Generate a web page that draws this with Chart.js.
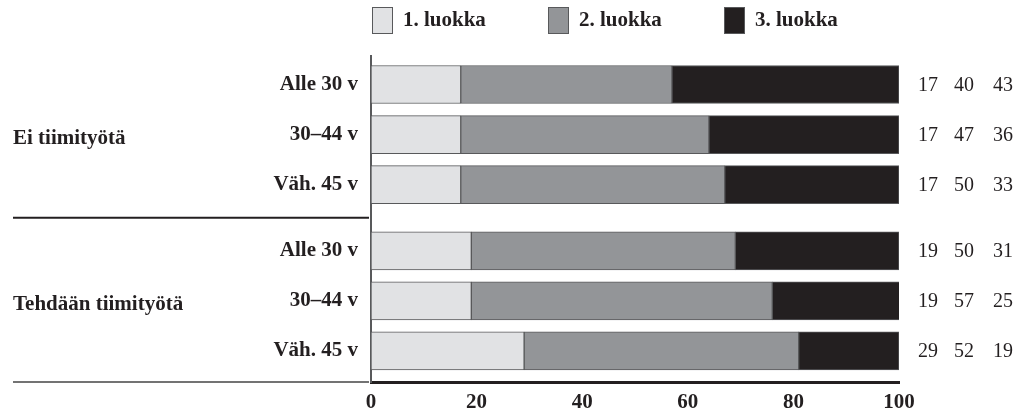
<!DOCTYPE html>
<html>
<head>
<meta charset="utf-8">
<script src="https://cdn.jsdelivr.net/npm/chart.js@4/dist/chart.umd.min.js"></script>
<style>
html,body{margin:0;padding:0;background:#fff;}
</style>
</head>
<body>
<canvas id="c" width="1026" height="414"></canvas>
<script>
// -------- data --------
const groupNames = ['Ei tiimityötä', 'Tehdään tiimityötä'];
const ageGroups = ['Alle 30 v', '30–44 v', 'Väh. 45 v', 'Alle 30 v', '30–44 v', 'Väh. 45 v'];
const seriesNames = ['1. luokka', '2. luokka', '3. luokka'];
const luokka1 = [17, 17, 17, 19, 19, 29];
const luokka2 = [40, 47, 50, 50, 57, 52];
const luokka3 = [43, 36, 33, 31, 25, 19];
const xTicks = [0, 20, 40, 60, 80, 100];

// -------- style --------
const colors = ['#e1e2e4', '#939598', '#231f20'];
const ink = '#231f20';
const serif = '"Liberation Serif", "Times New Roman", serif';

// rivin paikka y-akselilla, ryhmien väliin vähän lisätilaa
const rowsPerGroup = 3, groupGap = 0.32;
const rowPos = ageGroups.map((_, i) => i + Math.floor(i / rowsPerGroup) * groupGap);

const series = [luokka1, luokka2, luokka3];
const datasets = series.map((vals, k) => ({
    label: seriesNames[k],
    data: vals.map((v, i) => ({x: v, y: rowPos[i]})),
    backgroundColor: colors[k],
    borderColor: '#58595b',
    borderWidth: 1,
    borderSkipped: false,
    barThickness: 38
}));

// legend, ryhmät, luvut oikealla
const extras = {
    id: 'extras',
    afterDraw(chart){
        const ctx = chart.ctx;
        const area = chart.chartArea;
        const ys = chart.scales.y;
        ctx.save();

        // legend
        ctx.font = 'bold 21px ' + serif;
        ctx.textAlign = 'left';
        ctx.textBaseline = 'middle';
        chart.data.datasets.forEach((ds, k) => {
            const x = area.left + 1 + k * 176;
            ctx.fillStyle = ds.backgroundColor;
            ctx.fillRect(x, 7, 21, 27);
            ctx.strokeStyle = '#58595b';
            ctx.lineWidth = 1;
            ctx.strokeRect(x + 0.5, 7.5, 20, 26);
            ctx.fillStyle = ink;
            ctx.fillText(ds.label, x + 31, 21);
        });

        // luvut
        ctx.font = '20px ' + serif;
        ctx.textAlign = 'center';
        rowPos.forEach((p, i) => {
            const y = ys.getPixelForValue(p);
            series.forEach((vals, k) => {
                ctx.fillText(String(vals[i]), area.right + [29, 65, 104][k], y + 1);
            });
        });

        // ryhmien nimet
        ctx.font = 'bold 21px ' + serif;
        ctx.textAlign = 'left';
        groupNames.forEach((g, j) => {
            const mid = rowPos[j * rowsPerGroup + 1];
            ctx.fillText(g, 13, ys.getPixelForValue(mid) + 4);
        });

        // erotinviivat
        const sep = ys.getPixelForValue((rowPos[2] + rowPos[3]) / 2);
        ctx.strokeStyle = ink;
        ctx.lineWidth = 2;
        ctx.beginPath();
        ctx.moveTo(13, sep); ctx.lineTo(area.left - 2, sep);
        ctx.stroke();
        ctx.strokeStyle = '#444';
        ctx.lineWidth = 1.5;
        ctx.beginPath();
        ctx.moveTo(13, area.bottom); ctx.lineTo(area.left - 2, area.bottom);
        ctx.stroke();
        ctx.restore();
    }
};

new Chart(document.getElementById('c'), {
    type: 'bar',
    data: {datasets: datasets},
    options: {
        indexAxis: 'y',
        responsive: false,
        animation: false,
        layout: {padding: {top: 56, right: 127, left: 0, bottom: 0}},
        plugins: {legend: {display: false}, tooltip: {enabled: false}},
        scales: {
            x: {
                type: 'linear', stacked: true, min: 0, max: 100, offset: false,
                afterBuildTicks: s => { s.ticks = xTicks.map(v => ({value: v})); },
                ticks: {font: {family: serif, size: 21, weight: 'bold'}, color: ink, padding: 8},
                grid: {display: false, drawTicks: false},
                border: {display: true, width: 3, color: ink},
                afterFit: s => { s.height = 32; }
            },
            y: {
                type: 'linear', stacked: true, reverse: true, min: -0.57, max: 5.94, offset: false,
                afterBuildTicks: s => { s.ticks = rowPos.map(v => ({value: v})); },
                ticks: {
                    callback: (v, i) => ageGroups[i],
                    font: {family: serif, size: 21, weight: 'bold'}, color: ink, padding: 13
                },
                grid: {display: false, drawTicks: false, offset: false},
                border: {display: true, width: 2, color: '#58595b'},
                afterFit: s => { s.width = 371; }
            }
        }
    },
    plugins: [extras]
});
</script>
</body>
</html>
